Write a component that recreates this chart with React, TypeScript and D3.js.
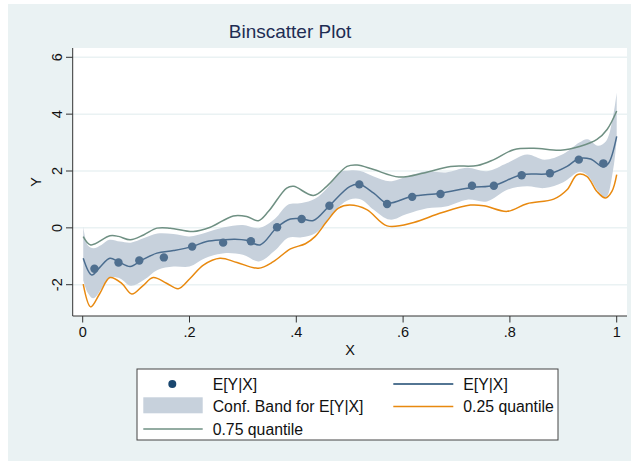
import * as d3 from "d3";

// binned means (dots)
const binX = [0.022, 0.067, 0.106, 0.152, 0.205, 0.263, 0.315, 0.364, 0.41, 0.462, 0.518, 0.57, 0.617, 0.67, 0.729, 0.77, 0.822, 0.875, 0.929, 0.975];
const binY = [-1.44, -1.22, -1.15, -1.04, -0.66, -0.52, -0.47, 0.02, 0.31, 0.78, 1.53, 0.84, 1.09, 1.19, 1.48, 1.48, 1.85, 1.92, 2.4, 2.27];

// fitted E[Y|X]
const fitX = [0.001, 0.017, 0.032, 0.051, 0.067, 0.089, 0.111, 0.139, 0.17, 0.205, 0.232, 0.263, 0.285, 0.307, 0.332, 0.364, 0.389, 0.41, 0.432, 0.462, 0.5, 0.518, 0.545, 0.57, 0.617, 0.67, 0.729, 0.77, 0.822, 0.875, 0.907, 0.929, 0.951, 0.975, 0.985, 1.0];
const fitY = [-1.07, -1.66, -1.39, -1.07, -1.19, -1.36, -1.13, -0.89, -0.8, -0.66, -0.48, -0.42, -0.4, -0.44, -0.6, 0.02, 0.31, 0.32, 0.26, 0.78, 1.45, 1.53, 1.22, 0.87, 1.11, 1.22, 1.42, 1.49, 1.87, 1.91, 2.16, 2.44, 2.42, 2.14, 2.28, 3.22];

// confidence band
const bandX = [0.001, 0.01, 0.02, 0.035, 0.05, 0.07, 0.09, 0.115, 0.14, 0.17, 0.2, 0.23, 0.265, 0.3, 0.33, 0.36, 0.385, 0.41, 0.435, 0.46, 0.48, 0.5, 0.52, 0.545, 0.575, 0.607, 0.645, 0.68, 0.72, 0.757, 0.795, 0.832, 0.865, 0.9, 0.93, 0.945, 0.965, 0.98, 0.993, 1.0];
const bandHi = [0.05, -0.62, -0.72, -0.6, -0.42, -0.48, -0.52, -0.36, -0.2, -0.22, -0.3, -0.17, 0.02, 0.1, -0.01, 0.32, 0.82, 0.87, 1.02, 1.45, 1.95, 2.02, 2.0, 1.81, 1.64, 1.81, 1.99, 1.95, 2.11, 1.99, 2.28, 2.58, 2.4, 2.6, 3.0, 3.12, 2.89, 3.05, 3.9, 4.75];
const bandLo = [-1.84, -2.3, -2.48, -2.15, -1.76, -1.78, -2.04, -1.83, -1.48, -1.36, -1.36, -1.06, -0.89, -0.95, -1.18, -0.8, -0.35, -0.33, -0.2, 0.3, 0.75, 1.0, 1.01, 0.64, 0.29, 0.49, 0.69, 0.75, 0.99, 0.93, 1.34, 1.46, 1.4, 1.6, 1.97, 1.85, 1.3, 1.08, 2.0, 3.11];

// 0.25 quantile
const q25X = [0.001, 0.015, 0.032, 0.051, 0.073, 0.092, 0.112, 0.132, 0.157, 0.179, 0.201, 0.226, 0.257, 0.289, 0.329, 0.357, 0.389, 0.417, 0.435, 0.457, 0.479, 0.5, 0.532, 0.57, 0.62, 0.67, 0.726, 0.751, 0.795, 0.832, 0.882, 0.907, 0.926, 0.944, 0.963, 0.979, 0.991, 1.0];
const q25Y = [-1.98, -2.78, -2.31, -1.75, -1.95, -2.33, -2.05, -1.75, -1.95, -2.14, -1.78, -1.31, -1.07, -1.22, -1.42, -1.19, -0.74, -0.56, -0.31, 0.22, 0.69, 0.8, 0.64, 0.07, 0.19, 0.52, 0.8, 0.78, 0.58, 0.85, 1.01, 1.34, 1.87, 1.81, 1.28, 1.05, 1.28, 1.87];

// 0.75 quantile
const q75X = [0.001, 0.015, 0.051, 0.067, 0.089, 0.114, 0.139, 0.164, 0.207, 0.239, 0.282, 0.307, 0.329, 0.348, 0.382, 0.395, 0.432, 0.457, 0.495, 0.514, 0.545, 0.592, 0.639, 0.689, 0.739, 0.77, 0.807, 0.845, 0.895, 0.932, 0.963, 0.982, 1.0];
const q75Y = [-0.31, -0.6, -0.28, -0.3, -0.42, -0.25, -0.01, -0.01, -0.13, 0.02, 0.42, 0.4, 0.25, 0.58, 1.4, 1.46, 1.14, 1.46, 2.16, 2.21, 2.05, 1.79, 1.93, 2.16, 2.19, 2.4, 2.75, 2.8, 2.73, 2.87, 3.11, 3.46, 4.11];

const xTicks = [0, 0.2, 0.4, 0.6, 0.8, 1];
const xTickLabels = ["0", ".2", ".4", ".6", ".8", "1"];
const yTicks = [-2, 0, 2, 4, 6];

const W = 631;
const H = 461;
const BG = "#eaf2f3";
const C_FIT = "#4b6d8f";
const C_DOT = "#4f6f8f";
const C_NAVY = "#1a476f";
const C_BAND = "#c7d1dc";
const C_Q25 = "#e8890f";
const C_Q75 = "#6f9083";
const FONT = "Liberation Sans, Arial, sans-serif";

export default function App() {
  const plot = { left: 72.7, right: 627, top: 48, bottom: 316 };
  const x = d3.scaleLinear().domain([0, 1]).range([82.7, 616.7]);
  const y = d3.scaleLinear().domain([-2, 6]).range([284.7, 57.3]);
  const curve = d3.curveCatmullRom.alpha(0.5);

  const pts = (xs: number[], ys: number[]) => xs.map((v, i) => [v, ys[i]] as [number, number]);
  const line = d3
    .line<[number, number]>()
    .x((d) => x(d[0]))
    .y((d) => y(d[1]))
    .curve(curve);

  const band = d3
    .area<number>()
    .x((_, i) => x(bandX[i]))
    .y0((_, i) => y(bandLo[i]))
    .y1((_, i) => y(bandHi[i]))
    .curve(curve);

  const legend = { x: 137, y: 369, w: 421, h: 71 };
  const rows = [384, 406.5, 429];

  return (
    <svg
      width={W}
      height={H}
      style={{ position: "absolute", left: 0, top: 0, background: "#fff" }}
      fontFamily={FONT}
    >
      <rect x={8} y={4} width={W - 8} height={H - 4} fill={BG} />
      <rect x={plot.left} y={plot.top} width={plot.right - plot.left} height={plot.bottom - plot.top} fill="#fff" />

      {/* gridlines */}
      {yTicks.map((t) => (
        <line key={t} x1={plot.left} x2={plot.right} y1={y(t)} y2={y(t)} stroke={BG} strokeWidth={1.5} />
      ))}

      <path d={band(bandX) ?? ""} fill={C_BAND} />
      <path d={line(pts(q75X, q75Y)) ?? ""} fill="none" stroke={C_Q75} strokeWidth={1.5} />
      <path d={line(pts(q25X, q25Y)) ?? ""} fill="none" stroke={C_Q25} strokeWidth={1.5} />
      <path d={line(pts(fitX, fitY)) ?? ""} fill="none" stroke={C_FIT} strokeWidth={1.5} />
      {binX.map((v, i) => (
        <circle key={i} cx={x(v)} cy={y(binY[i])} r={4.2} fill={C_DOT} />
      ))}

      {/* axes */}
      <line x1={plot.left} x2={plot.left} y1={plot.top} y2={plot.bottom} stroke="#333" strokeWidth={1} />
      <line x1={plot.left} x2={plot.right} y1={plot.bottom} y2={plot.bottom} stroke="#333" strokeWidth={1} />
      {yTicks.map((t) => (
        <g key={t}>
          <line x1={66} x2={plot.left} y1={y(t)} y2={y(t)} stroke="#333" />
          <text
            transform={`translate(62,${y(t)}) rotate(-90)`}
            textAnchor="middle"
            fontSize={14.5}
            fill="#111"
          >
            {t}
          </text>
        </g>
      ))}
      {xTicks.map((t, i) => (
        <g key={t}>
          <line x1={x(t)} x2={x(t)} y1={plot.bottom} y2={322.5} stroke="#333" />
          <text x={x(t)} y={337} textAnchor="middle" fontSize={14.5} fill="#111">
            {xTickLabels[i]}
          </text>
        </g>
      ))}
      <text x={350} y={355} textAnchor="middle" fontSize={14.5} fill="#111">
        X
      </text>
      <text transform={`translate(41,182) rotate(-90)`} textAnchor="middle" fontSize={14.5} fill="#111">
        Y
      </text>

      <text x={290} y={38} textAnchor="middle" fontSize={19} fill="#1e2d53">
        Binscatter Plot
      </text>

      {/* legend */}
      <rect x={legend.x} y={legend.y} width={legend.w} height={legend.h} fill="#fff" stroke="#444" strokeWidth={1} />
      <circle cx={172.3} cy={rows[0]} r={4} fill={C_NAVY} />
      <rect x={143.3} y={397.3} width={59.4} height={16} fill={C_BAND} />
      <line x1={143.3} x2={202.7} y1={rows[2]} y2={rows[2]} stroke={C_Q75} strokeWidth={1.5} />
      <line x1={393.3} x2={453.3} y1={rows[0]} y2={rows[0]} stroke={C_NAVY} strokeWidth={1.5} />
      <line x1={393.3} x2={453.3} y1={rows[1]} y2={rows[1]} stroke={C_Q25} strokeWidth={1.5} />
      {[
        { tx: 212.7, ty: rows[0], s: "E[Y|X]" },
        { tx: 212.7, ty: rows[1], s: "Conf. Band for E[Y|X]" },
        { tx: 212.7, ty: rows[2], s: "0.75 quantile" },
        { tx: 463.3, ty: rows[0], s: "E[Y|X]" },
        { tx: 463.3, ty: rows[1], s: "0.25 quantile" },
      ].map((d, i) => (
        <text key={i} x={d.tx} y={d.ty + 5.5} fontSize={15.8} fill="#111">
          {d.s}
        </text>
      ))}
    </svg>
  );
}
